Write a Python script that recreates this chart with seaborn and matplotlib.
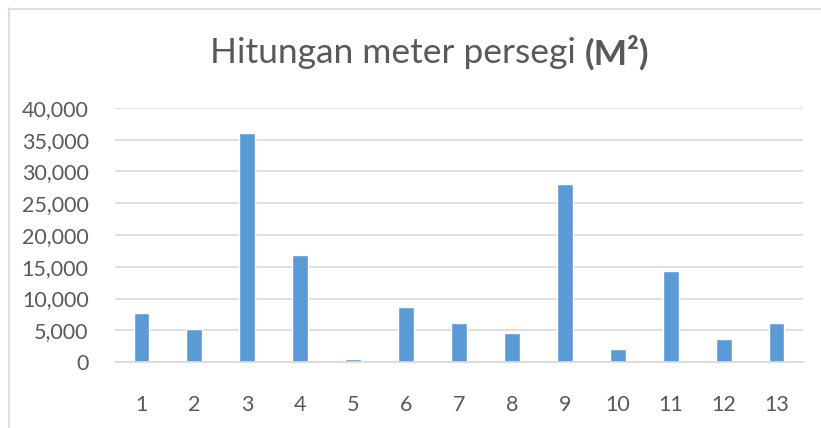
import matplotlib
matplotlib.use("Agg")
import matplotlib.pyplot as plt
import seaborn as sns
import pandas as pd
from matplotlib.lines import Line2D
from matplotlib.ticker import FuncFormatter

categories = ["1", "2", "3", "4", "5", "6", "7", "8", "9", "10", "11", "12", "13"]
values = [7700, 5200, 36000, 16800, 500, 8600, 6100, 4500, 28100, 2000, 14300, 3600, 6100]
y_ticks = [0, 5000, 10000, 15000, 20000, 25000, 30000, 35000, 40000]

sns.set_theme(style="white")
plt.rcParams["font.family"] = ["Lato", "DejaVu Sans"]

W, H = 821, 428
fig = plt.figure(figsize=(W / 100, H / 100), dpi=100)
ax = fig.add_axes([115 / W, 1 - 362 / H, (803 - 115) / W, (362 - 108) / H])

df = pd.DataFrame({"cat": categories, "val": values})
sns.barplot(data=df, x="cat", y="val", color="#5B9BD5", width=0.3, ax=ax,
            saturation=1, zorder=3)

ax.set_ylim(0, 40000)
ax.set_xlim(-0.5, len(categories) - 0.5)
ax.set_yticks(y_ticks)
ax.yaxis.set_major_formatter(FuncFormatter(lambda v, p: f"{int(v):,}"))
ax.grid(axis="y", color="#D9D9D9", linewidth=1.2, zorder=0)
ax.grid(axis="x", visible=False)
for s in ["top", "right", "left"]:
    ax.spines[s].set_visible(False)
ax.spines["bottom"].set_color("#D9D9D9")
ax.spines["bottom"].set_linewidth(1.2)
ax.spines["bottom"].set_zorder(4)
ax.set_xlabel("")
ax.set_ylabel("")
ax.tick_params(axis="y", length=0, pad=19, labelsize=15.5, labelcolor="#595959")
ax.tick_params(axis="x", length=0, pad=24, labelsize=15.5, labelcolor="#595959")

# title: regular part + bold part, centered together
renderer = fig.canvas.get_renderer()
t1 = fig.text(0, 1 - 53 / H, "Hitungan meter persegi ", ha="left", va="center",
              fontsize=25.5, color="#595959")
t2 = fig.text(0, 1 - 53 / H, "(M²)", ha="left", va="center",
              fontsize=25.5, color="#595959", fontweight="bold")
w1 = t1.get_window_extent(renderer).width
w2 = t2.get_window_extent(renderer).width
x0 = 430 - (w1 + w2) / 2
t1.set_x(x0 / W)
t2.set_x((x0 + w1) / W)

# chart border (top and left visible)
fig.add_artist(Line2D([8 / W, 1.0], [1 - 8.5 / H, 1 - 8.5 / H], color="#D9D9D9", linewidth=1.2,
                      transform=fig.transFigure))
fig.add_artist(Line2D([8.5 / W, 8.5 / W], [0, 1 - 8 / H], color="#D9D9D9", linewidth=1.2,
                      transform=fig.transFigure))

fig.savefig("out.png", dpi=100)
